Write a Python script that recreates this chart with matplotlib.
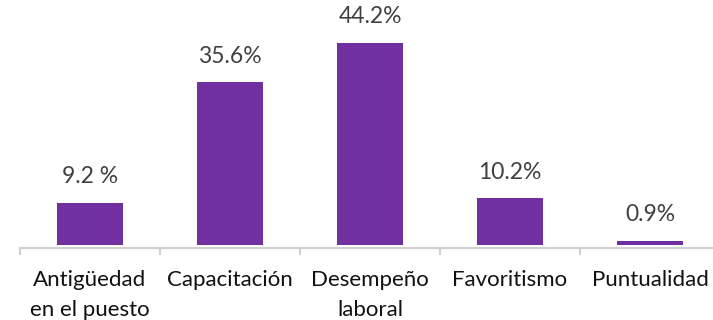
import matplotlib.pyplot as plt

categorias = ["Antigüedad\nen el puesto", "Capacitación", "Desempeño\nlaboral", "Favoritismo", "Puntualidad"]
valores = [9.2, 35.6, 44.2, 10.2, 0.9]
etiquetas = ["9.2 %", "35.6%", "44.2%", "10.2%", "0.9%"]

plt.rcParams['font.family'] = ['Lato', 'DejaVu Sans']

fig = plt.figure(figsize=(7.13, 3.2), dpi=100)
ax = fig.add_axes([20 / 713, 75 / 320, 700 / 713, 245 / 320])

x = range(len(categorias))
bars = ax.bar(x, valores, width=0.47, color="#7030A0")

for b, t in zip(bars, etiquetas):
    ax.annotate(t, (b.get_x() + b.get_width() / 2, b.get_height()),
                xytext=(0, 26), textcoords='offset pixels',
                ha='center', va='center', fontsize=16.5, color="#404040")

ax.set_xlim(-0.5, len(categorias) - 0.5)
ax.set_ylim(0, 53.6)
ax.set_yticks([])
for s in ['top', 'left', 'right']:
    ax.spines[s].set_visible(False)
ax.spines['bottom'].set_color("#D0D0D0")
ax.spines['bottom'].set_linewidth(1.5)
ax.spines['bottom'].set_position(('outward', 2))

ax.set_xticks([i - 0.5 for i in range(len(categorias) + 1)])
ax.set_xticklabels([])
ax.tick_params(axis='x', length=5, width=1.5, color="#D0D0D0")
ax.set_xticks(list(x), minor=True)
ax.set_xticklabels(categorias, minor=True, fontsize=16, color="#111111", linespacing=1.6, va='top')
ax.tick_params(axis='x', which='minor', length=0, pad=16)

fig.savefig("out.png", dpi=100)
